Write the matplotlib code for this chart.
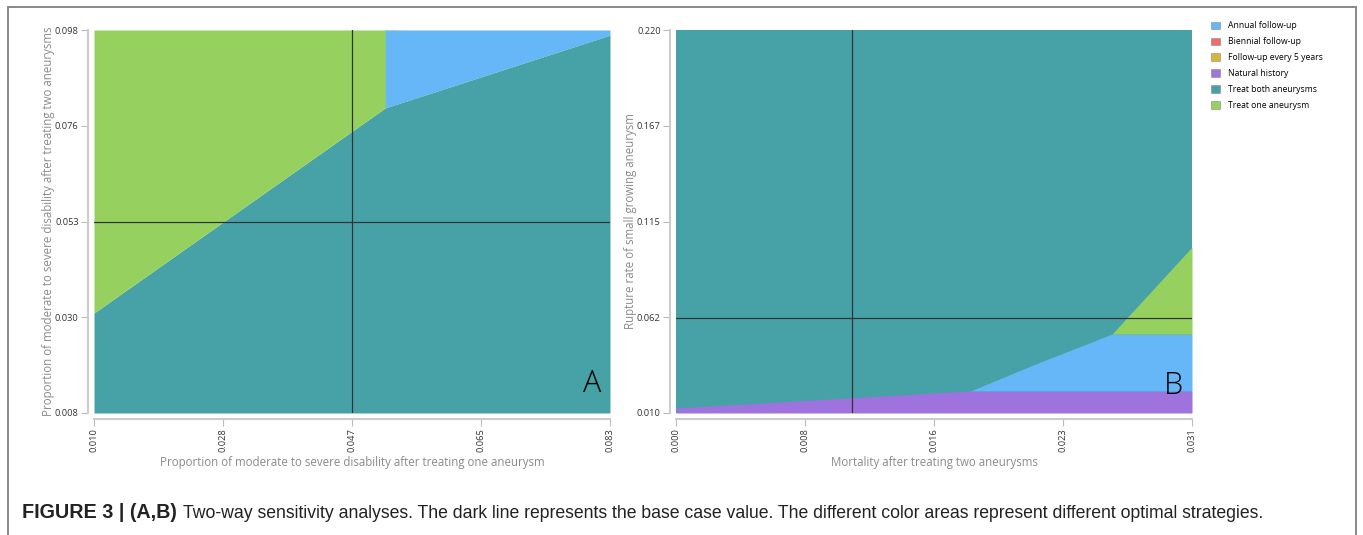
import matplotlib.pyplot as plt
from matplotlib.patches import Rectangle, Patch

plt.rcParams['font.family'] = ['Open Sans', 'DejaVu Sans']

# colours of the strategies
c_annual = '#66b7f8'
c_biennial = '#ef6b6b'
c_five = '#d6b73a'
c_natural = '#9e73de'
c_both = '#47a2a8'
c_one = '#96d160'

legend_labels = ['Annual follow-up', 'Biennial follow-up', 'Follow-up every 5 years',
                 'Natural history', 'Treat both aneurysms', 'Treat one aneurysm']
legend_colors = [c_annual, c_biennial, c_five, c_natural, c_both, c_one]

# panel A
a_xlim = (0.010, 0.083)
a_ylim = (0.008, 0.098)
a_xticks = [0.010, 0.02825, 0.0465, 0.06475, 0.083]
a_xticklabels = ['0.010', '0.028', '0.047', '0.065', '0.083']
a_yticks = [0.008, 0.0305, 0.053, 0.0755, 0.098]
a_yticklabels = ['0.008', '0.030', '0.053', '0.076', '0.098']
a_base = (0.0465, 0.053)
# treat both / other boundary
a_bx = [0.010, 0.0512, 0.083]
a_by = [0.0315, 0.0797, 0.0968]
a_split = 0.0512  # green | blue

# panel B
b_xlim = (0.000, 0.031)
b_ylim = (0.010, 0.220)
b_xticks = [0.0, 0.00775, 0.0155, 0.02325, 0.031]
b_xticklabels = ['0.000', '0.008', '0.016', '0.023', '0.031']
b_yticks = [0.010, 0.0625, 0.115, 0.1675, 0.220]
b_yticklabels = ['0.010', '0.062', '0.115', '0.167', '0.220']
b_base = (0.0106, 0.0621)
# natural history top
b_nx = [0.000, 0.0177, 0.031]
b_ny = [0.0127, 0.0221, 0.0221]
# annual top
b_ax = [0.0177, 0.0215, 0.0262, 0.031]
b_ay = [0.0221, 0.0365, 0.0533, 0.0533]
# treat one top
b_gx = [0.0262, 0.031]
b_gy = [0.0533, 0.101]

fig = plt.figure(figsize=(13.63, 5.35), dpi=100)
W, H = 1363, 535

def style(ax, xlim, ylim, xt, xtl, yt, ytl, xlabel, ylabel):
    # spine position first: it resets the ticks
    for s in ['top', 'right']:
        ax.spines[s].set_visible(False)
    for s in ['left', 'bottom']:
        ax.spines[s].set_color('#cccccc')
        ax.spines[s].set_linewidth(1.5)
        ax.spines[s].set_position(('outward', 4))
    ax.set_xlim(xlim)
    ax.set_ylim(ylim)
    ax.set_xticks(xt)
    ax.set_xticklabels(xtl, rotation=90, fontsize=6.7, color='#333333')
    ax.set_yticks(yt)
    ax.set_yticklabels(ytl, fontsize=6.7, color='#333333')
    ax.tick_params(length=5, color='#bbbbbb', pad=2)
    ax.set_xlabel(xlabel, fontsize=8.3, color='#8a8a8a', labelpad=3)
    ax.set_ylabel(ylabel, fontsize=8.3, color='#8a8a8a', labelpad=0)

axA = fig.add_axes([94 / W, 1 - 413 / H, 516 / W, 383 / H])
style(axA, a_xlim, a_ylim, a_xticks, a_xticklabels, a_yticks, a_yticklabels,
      'Proportion of moderate to severe disability after treating one aneurysm',
      'Proportion of moderate to severe disability after treating two aneurysms')
axA.fill_between(a_bx, a_ylim[0], a_by, color=c_both, lw=0)
axA.fill_between(a_bx, a_by, a_ylim[1], where=[x <= a_split for x in a_bx],
                 color=c_one, lw=0, interpolate=True)
axA.fill_between(a_bx, a_by, a_ylim[1], where=[x >= a_split for x in a_bx],
                 color=c_annual, lw=0, interpolate=True)
axA.axvline(a_base[0], color='#333333', lw=0.9)
axA.axhline(a_base[1], color='#333333', lw=0.9)
axA.text(0.983, 0.035, 'A', transform=axA.transAxes, fontsize=22, ha='right',
         va='bottom', color='black', family=['Open Sans'], fontweight='light')

axB = fig.add_axes([676 / W, 1 - 413 / H, 516 / W, 383 / H])
style(axB, b_xlim, b_ylim, b_xticks, b_xticklabels, b_yticks, b_yticklabels,
      'Mortality after treating two aneurysms',
      'Rupture rate of small growing aneurysm')
axB.fill_between(b_xlim, b_ylim[0], b_ylim[1], color=c_both, lw=0)
axB.fill_between(b_nx, b_ylim[0], b_ny, color=c_natural, lw=0)
axB.fill_between(b_ax, [0.0221] * len(b_ax), b_ay, color=c_annual, lw=0)
axB.fill_between(b_gx, [0.0533] * len(b_gx), b_gy, color=c_one, lw=0)
axB.axvline(b_base[0], color='#333333', lw=0.9)
axB.axhline(b_base[1], color='#333333', lw=0.9)
axB.text(0.983, 0.03, 'B', transform=axB.transAxes, fontsize=22, ha='right',
         va='bottom', color='black', family=['Open Sans'], fontweight='light')

handles = [Patch(facecolor=c, edgecolor='#888888', lw=0.4) for c in legend_colors]
fig.legend(handles, legend_labels, loc='upper left', bbox_to_anchor=(1208 / W, 1 - 18 / H),
           frameon=False, fontsize=6.2, handlelength=1.0, handleheight=1.0,
           handletextpad=0.9, labelspacing=0.8, borderaxespad=0)

# outer frame
fig.add_artist(Rectangle((8 / W, -0.1), 1348 / W, 1.1 - 7 / H, transform=fig.transFigure,
                         fill=False, edgecolor='#888888', lw=1.4))

fig.text(22 / W, 1 - 513 / H, 'FIGURE 3 | (A,B)', fontsize=14.2, fontweight='bold',
         family=['Liberation Sans'], va='center', color='#222222')
fig.text(183 / W, 1 - 513 / H,
         'Two-way sensitivity analyses. The dark line represents the base case value. '
         'The different color areas represent different optimal strategies.',
         fontsize=12.7, family=['Liberation Sans'], va='center', color='#222222')

fig.savefig('out.png', dpi=100)
